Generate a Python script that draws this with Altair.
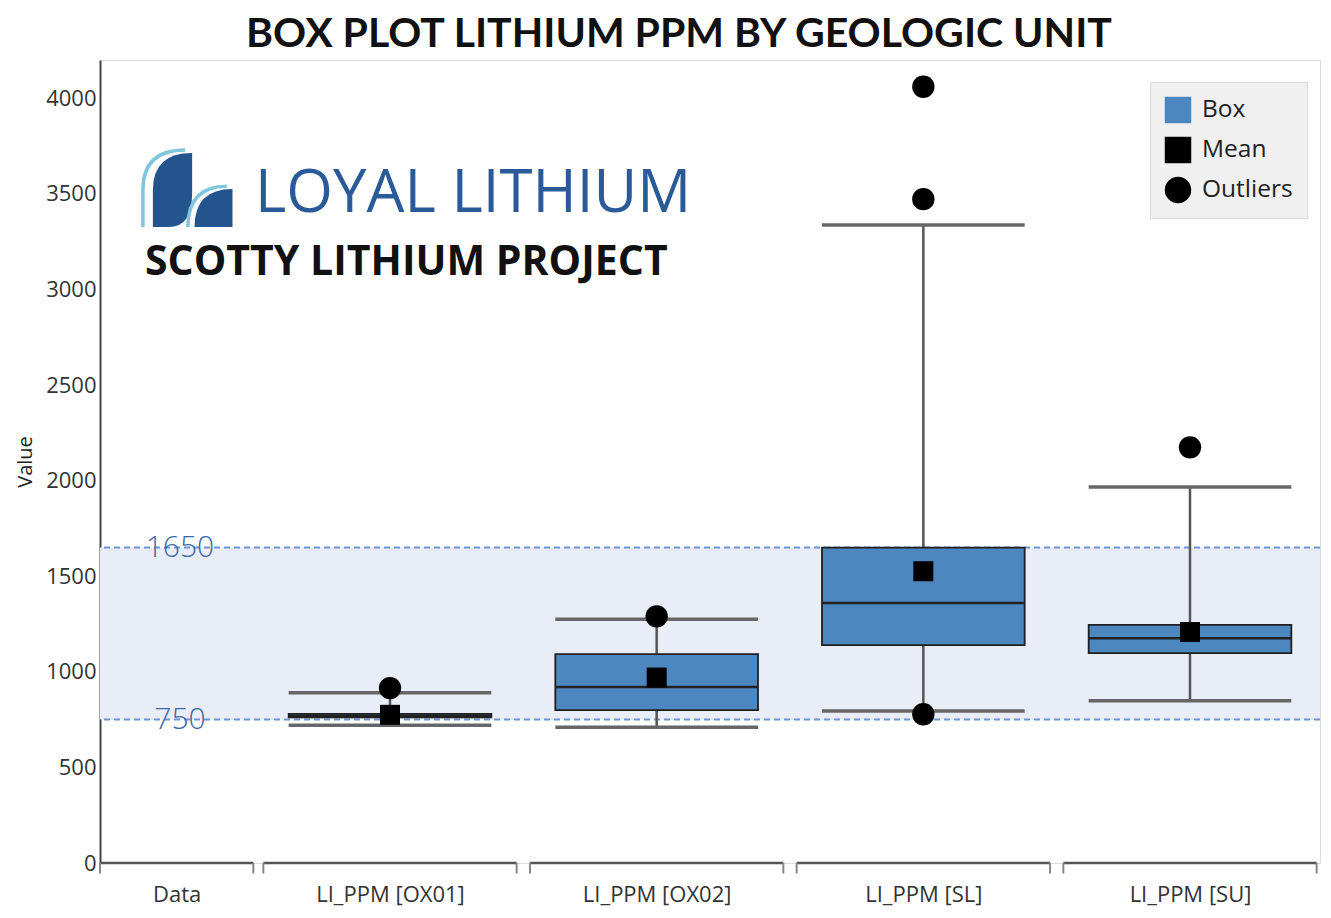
import json
import altair as alt
import pandas as pd

# ---------------- data ----------------
categories = ["LI_PPM [OX01]", "LI_PPM [OX02]", "LI_PPM [SL]", "LI_PPM [SU]"]
group_label = "Data"
cat_pos = [1, 2, 3, 4]
whisker_low = [720, 710, 795, 848]
q1 = [762, 800, 1140, 1098]
median = [770, 920, 1360, 1176]
q3 = [780, 1093, 1650, 1246]
whisker_high = [890, 1275, 3337, 1966]
means = [775, 970, 1526, 1208]
outlier_cat = [1, 2, 3, 3, 3, 4]
outlier_val = [915, 1290, 4060, 3472, 778, 2174]
thresholds = [1650, 750]
threshold_labels = ["1650", "750"]
y_ticks = [0, 500, 1000, 1500, 2000, 2500, 3000, 3500, 4000]
legend_items = ["Box", "Mean", "Outliers"]
legend_colors = ["#4d87c0", "#000000", "#000000"]
legend_shapes = ["square", "square", "circle"]

# ---------------- layout constants ----------------
X_MIN, X_MAX = -0.0875, 4.4875
HW = 0.38          # half width of boxes / caps
BR = 0.475         # half width of bracket segments
DATA_POS = 0.2
FONT = "Open Sans"

box_df = pd.DataFrame({
    "cat": categories, "pos": cat_pos, "lo": whisker_low, "q1": q1,
    "med": median, "q3": q3, "hi": whisker_high, "mean": means,
})
box_df["left"] = box_df["pos"] - HW
box_df["right"] = box_df["pos"] + HW
box_df["kind"] = "Mean"

out_df = pd.DataFrame({"pos": outlier_cat, "val": outlier_val})
out_df["kind"] = "Outliers"

thr_df = pd.DataFrame({"v": thresholds, "label": threshold_labels})
band_df = pd.DataFrame({"lo": [min(thresholds)], "hi": [max(thresholds)]})

br_df = pd.DataFrame({
    "x0": [X_MIN] + [p - BR for p in cat_pos],
    "x1": [DATA_POS + (DATA_POS - X_MIN)] + [p + BR for p in cat_pos],
})
edge_df = pd.DataFrame({"x": list(br_df["x0"]) + list(br_df["x1"])})

label_list = json.dumps([group_label] + categories).replace('"', "'")
x_scale = alt.Scale(domain=[X_MIN, X_MAX], nice=False, zero=False)
x_axis = alt.Axis(values=[DATA_POS] + cat_pos, labelExpr=f"{label_list}[round(datum.value)]",
                  domain=False, ticks=False, grid=False, labelFontSize=22, labelColor="#333333",
                  labelPadding=21, labelFont=FONT, title=None)
y_scale = alt.Scale(domain=[0, 4200], nice=False)
y_axis = alt.Axis(values=y_ticks, format="d", ticks=False, grid=False, labelFontSize=22,
                  labelColor="#333333", labelFont=FONT, labelPadding=4, domainColor="#444444",
                  domainWidth=2, title="Value", titleFontSize=20, titleFontWeight="normal",
                  titleColor="#222222", titleFont=FONT, titlePadding=10)


def X(f):
    return alt.X(f, type="quantitative", scale=x_scale, axis=x_axis)


def Y(f):
    return alt.Y(f, type="quantitative", scale=y_scale, axis=y_axis)


def legend():
    return alt.Legend(title=None, orient="none", legendX=1050, legendY=22, padding=14,
                      fillColor="#f0f0f0", strokeColor="#dadada", labelFontSize=24.5,
                      labelFont=FONT, labelColor="#222222", symbolSize=700, rowPadding=12,
                      labelOffset=10)


color_enc = alt.Color("kind:N", scale=alt.Scale(domain=legend_items, range=legend_colors), legend=legend())
shape_enc = alt.Shape("kind:N", scale=alt.Scale(domain=legend_items, range=legend_shapes), legend=legend())

band = alt.Chart(band_df).mark_rect(color="#e9edf7").encode(y=Y("lo"), y2="hi")
thr_lines = alt.Chart(thr_df).mark_rule(color="#6b95d6", strokeDash=[6, 4], strokeWidth=2).encode(y=Y("v"))
thr_text = alt.Chart(thr_df).mark_text(fontSize=30, font=FONT, fontWeight=300, color="#3d68a8",
                                       align="center", baseline="middle").encode(
    x=alt.value(80), y=Y("v"), text="label:N")

brackets = alt.Chart(br_df).mark_rule(color="#555555", strokeWidth=2.5).encode(
    x=X("x0"), x2="x1", y=alt.datum(0))
bracket_ticks = alt.Chart(edge_df).mark_rule(color="#888888", strokeWidth=2).encode(
    x=X("x"), y=alt.datum(0), y2=alt.datum(-55))

whisk_up = alt.Chart(box_df).mark_rule(color="#555555", strokeWidth=2.5).encode(x=X("pos"), y=Y("q3"), y2="hi")
whisk_dn = alt.Chart(box_df).mark_rule(color="#555555", strokeWidth=2.5).encode(x=X("pos"), y=Y("lo"), y2="q1")
cap_hi = alt.Chart(box_df).mark_rule(color="#666666", strokeWidth=3.5).encode(x=X("left"), x2="right", y=Y("hi"))
cap_lo = alt.Chart(box_df).mark_rule(color="#666666", strokeWidth=3.5).encode(x=X("left"), x2="right", y=Y("lo"))
boxes = alt.Chart(box_df).mark_rect(color="#4d87c0", stroke="#1f1f1f", strokeWidth=1.8).encode(
    x=X("left"), x2="right", y=Y("q1"), y2="q3")
med = alt.Chart(box_df).mark_rule(color="#222222", strokeWidth=2.5).encode(x=X("left"), x2="right", y=Y("med"))
mean_pts = alt.Chart(box_df).mark_point(filled=True, size=400, opacity=1).encode(
    x=X("pos"), y=Y("mean"), color=color_enc, shape=shape_enc)
out_pts = alt.Chart(out_df).mark_point(filled=True, size=500, opacity=1).encode(
    x=X("pos"), y=Y("val"), color=color_enc, shape=shape_enc)

# ---------------- logo decoration ----------------
logo_df = pd.DataFrame({"k": [0]})
leaf_big = "M 0.53 -1 L 0.53 0.1 Q 0.53 1 -0.1 1 L -0.53 1 L -0.53 0 Q -0.53 -1 0.53 -1 Z"
arc_big = "M -0.8 1 L -0.8 0 Q -0.8 -1.08 0.34 -1.08"
leaf_small = "M 1 -1 L 1 1 L -1 1 Q -1 -1 1 -1 Z"
arc_small = "M -1.35 1 Q -1.35 -1.15 0.7 -1.15"
logo = [
    alt.Chart(logo_df).mark_point(shape=leaf_big, filled=True, color="#24548e", size=5476, opacity=1).encode(
        x=alt.value(72.5), y=alt.value(130)),
    alt.Chart(logo_df).mark_point(shape=arc_big, filled=False, color="#7fc6dc", size=5476, strokeWidth=3.5, opacity=1).encode(
        x=alt.value(72.5), y=alt.value(130)),
    alt.Chart(logo_df).mark_point(shape=leaf_small, filled=True, color="#24548e", size=1444, opacity=1).encode(
        x=alt.value(113.5), y=alt.value(148)),
    alt.Chart(logo_df).mark_point(shape=arc_small, filled=False, color="#7fc6dc", size=1444, strokeWidth=3.5, opacity=1).encode(
        x=alt.value(113.5), y=alt.value(148)),
    alt.Chart(logo_df).mark_text(text="LOYAL LITHIUM", font=FONT, fontSize=60, color="#2a5b98",
                                 align="left", baseline="alphabetic").encode(x=alt.value(155), y=alt.value(152)),
    alt.Chart(logo_df).mark_text(text="SCOTTY LITHIUM PROJECT", font=FONT, fontSize=41, fontWeight="bold",
                                 color="#111111", align="left", baseline="alphabetic").encode(
        x=alt.value(45), y=alt.value(215)),
]

chart = alt.layer(
    band, thr_lines, brackets, bracket_ticks, whisk_up, whisk_dn, cap_hi, cap_lo, boxes, med,
    mean_pts, out_pts, thr_text, *logo
).properties(
    width=1220, height=803,
    padding={"left": 92, "top": 52, "right": 2, "bottom": 47},
    autosize=alt.AutoSizeParams(type="none"),
    title=alt.TitleParams("BOX PLOT LITHIUM PPM BY GEOLOGIC UNIT", font="Lato", fontSize=41,
                          fontWeight="bold", color="#111111", anchor="middle", dx=-31, offset=4),
).configure_view(stroke="transparent").configure(background="white")

chart.save("out.html", embed_options={"renderer": "svg", "actions": False})
